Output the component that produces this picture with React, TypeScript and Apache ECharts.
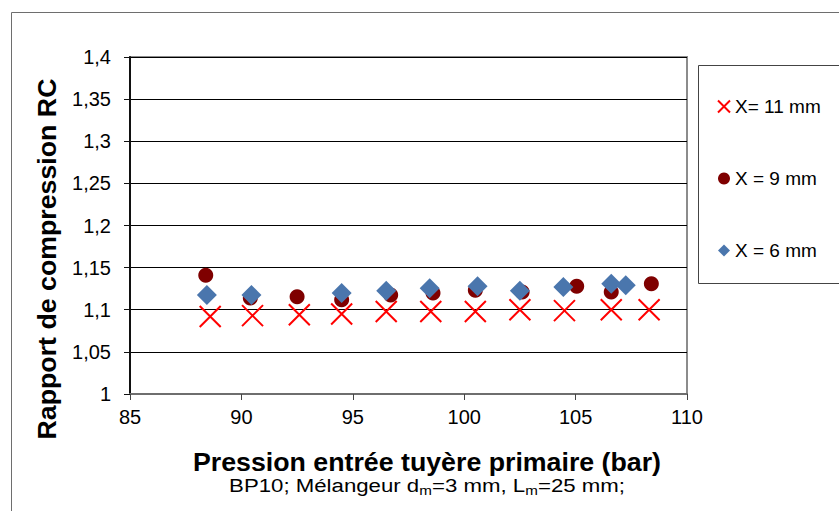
import React, { useEffect, useRef } from "react";
import * as echarts from "echarts";

const seriesNames = ["X= 11 mm", "X = 9 mm", "X = 6 mm"];
const x11 = [88.6, 90.5, 92.6, 94.5, 96.5, 98.5, 100.5, 102.5, 104.5, 106.6, 108.3];
const y11 = [1.092, 1.093, 1.094, 1.095, 1.098, 1.098, 1.098, 1.1, 1.099, 1.1, 1.1];
const x9 = [88.4, 90.4, 92.5, 94.5, 96.7, 98.6, 100.5, 102.6, 105.05, 106.6, 108.4];
const y9 = [1.141, 1.114, 1.1155, 1.112, 1.1175, 1.12, 1.123, 1.121, 1.128, 1.121, 1.131];
const x6 = [88.45, 90.45, 94.5, 96.5, 98.45, 100.6, 102.5, 104.45, 106.6, 107.25];
const y6 = [1.1175, 1.1175, 1.12, 1.1225, 1.1255, 1.128, 1.1225, 1.127, 1.131, 1.129];

const xTicks = { min: 85, max: 110, interval: 5 };
const yTicks = { min: 1, max: 1.4, interval: 0.05 };

const pair = (xs: number[], ys: number[]) => xs.map((x, i) => [x, ys[i]]);

const FONT = "'Liberation Sans', Arial, sans-serif";

export default function App() {
  const ref = useRef<HTMLDivElement>(null);
  useEffect(() => {
    document.body.style.margin = "0";
    const chart = echarts.init(ref.current!, null, { renderer: "svg" });
    const crossPath = "path://M0,0L10,10M10,0L0,10";
    chart.setOption({
      animation: false,
      backgroundColor: "#fff",
      textStyle: { fontFamily: FONT },
      grid: {
        left: 130,
        top: 57,
        width: 557,
        height: 337,
        show: true,
        borderColor: "#8c8c8c",
        borderWidth: 2,
        backgroundColor: "transparent",
      },
      xAxis: {
        type: "value",
        min: xTicks.min,
        max: xTicks.max,
        interval: xTicks.interval,
        splitLine: { show: false },
        axisLine: { show: true, onZero: false, lineStyle: { color: "#6e6e6e", width: 2 } },
        axisTick: { show: true, length: 6, lineStyle: { color: "#444", width: 1 } },
        axisLabel: { color: "#000", fontSize: 20, margin: 13, fontFamily: FONT },
      },
      yAxis: {
        type: "value",
        min: yTicks.min,
        max: yTicks.max,
        interval: yTicks.interval,
        splitLine: { show: true, lineStyle: { color: "#000", width: 1 } },
        axisLine: { show: true, onZero: false, lineStyle: { color: "#111", width: 2 } },
        axisTick: { show: true, length: 6, lineStyle: { color: "#111", width: 1 } },
        axisLabel: {
          color: "#000",
          fontSize: 20,
          margin: 19,
          fontFamily: FONT,
          formatter: (v: number) => String(Number(v.toFixed(2))).replace(".", ","),
        },
      },
      legend: {
        orient: "vertical",
        left: 712,
        top: 92,
        itemGap: 53,
        itemWidth: 12,
        itemHeight: 12,
        textStyle: { fontSize: 19, color: "#000", fontFamily: FONT },
        data: seriesNames,
      },
      graphic: [
        {
          type: "rect",
          shape: { x: 11.5, y: 12.5, width: 900, height: 600 },
          style: { fill: "none", stroke: "#6e6e6e", lineWidth: 1 },
          z: -1,
          silent: true,
        },
        {
          type: "rect",
          shape: { x: 698.5, y: 65.5, width: 300, height: 218 },
          style: { fill: "none", stroke: "#444", lineWidth: 1 },
          silent: true,
        },
        {
          type: "text",
          x: 47,
          y: 259,
          rotation: Math.PI / 2,
          scaleX: 1.07,
          style: {
            text: "Rapport de compression RC",
            font: `bold 25px ${FONT}`,
            fill: "#000",
            align: "center",
            verticalAlign: "middle",
          },
        },
        {
          type: "text",
          x: 427,
          y: 462,
          scaleX: 1.07,
          style: {
            text: "Pression entrée tuyère primaire (bar)",
            font: `bold 25px ${FONT}`,
            fill: "#000",
            align: "center",
            verticalAlign: "middle",
          },
        },
        {
          type: "text",
          x: 427,
          y: 485,
          scaleX: 1.17,
          style: {
            text: "{n|BP10; Mélangeur d}{s|m}{n|=3 mm, L}{s|m}{n|=25 mm;}",
            align: "center",
            verticalAlign: "middle",
            rich: {
              n: { fontSize: 19, fontFamily: FONT, fill: "#000", lineHeight: 22 },
              s: { fontSize: 13, fontFamily: FONT, fill: "#000", lineHeight: 22, padding: [10, 0, 0, 0] },
            },
          },
        },
      ],
      series: [
        {
          name: seriesNames[0],
          type: "scatter",
          data: pair(x11, y11),
          symbol: crossPath,
          symbolSize: 21,
          itemStyle: { color: "rgba(0,0,0,0)", borderColor: "#ff0000", borderWidth: 2, opacity: 1 },
          z: 2,
        },
        {
          name: seriesNames[1],
          type: "scatter",
          data: pair(x9, y9),
          symbol: "circle",
          symbolSize: 15,
          itemStyle: { color: "#7f0000", opacity: 1 },
          z: 3,
        },
        {
          name: seriesNames[2],
          type: "scatter",
          data: pair(x6, y6),
          symbol: "diamond",
          symbolSize: [20, 20],
          itemStyle: { color: "#4a76ad", opacity: 1 },
          z: 4,
        },
      ],
    });
    return () => chart.dispose();
  }, []);
  return <div ref={ref} style={{ width: 839, height: 511 }} />;
}
